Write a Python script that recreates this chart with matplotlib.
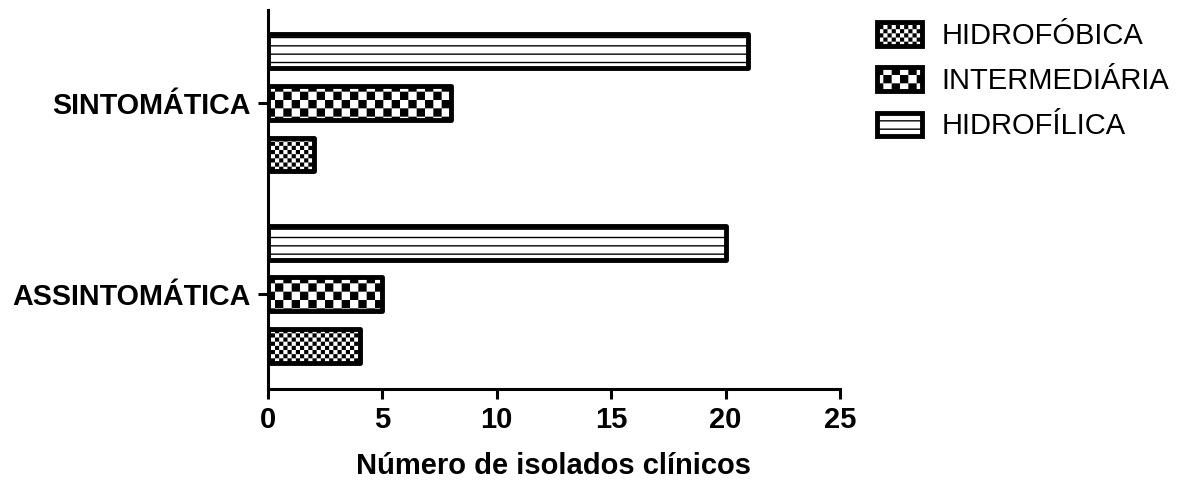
import numpy as np
import matplotlib
matplotlib.use('Agg')
import matplotlib.hatch as mhatch
from matplotlib.path import Path
from matplotlib import pyplot as plt

# ---dados---
grupos = ['ASSINTOMÁTICA', 'SINTOMÁTICA']
series = ['HIDROFÓBICA', 'INTERMEDIÁRIA', 'HIDROFÍLICA']
hidrofobica = [4, 2]
intermediaria = [5, 8]
hidrofilica = [20, 21]
xticks = [0, 5, 10, 15, 20, 25]
xlabel = 'Número de isolados clínicos'


# ---padrão xadrez como hachura (substitui '.' e 'o')---
class _Checker(mhatch.HatchPatternBase):
    char = '.'

    def __init__(self, hatch, density):
        self.n = int(hatch.count(self.char) * density)
        self.num_vertices = (self.n * self.n // 2) * 5

    def set_vertices_and_codes(self, vertices, codes):
        n = self.n
        s = 1.0 / n
        e = 0.007  # desconta a espessura do traço da hachura
        sq = np.array([[e, e], [s - e, e], [s - e, s - e], [e, s - e], [e, e]])
        parts = [sq + [i * s, j * s] for i in range(n) for j in range(n) if (i + j) % 2 == 0]
        vertices[:] = np.concatenate(parts)
        codes[:] = np.tile([Path.MOVETO, Path.LINETO, Path.LINETO, Path.LINETO, Path.CLOSEPOLY], len(parts))


class FineChecker(_Checker):
    char = '.'


class CoarseChecker(_Checker):
    char = 'o'


mhatch._hatch_types[mhatch._hatch_types.index(mhatch.SmallFilledCircles)] = FineChecker
mhatch._hatch_types[mhatch._hatch_types.index(mhatch.SmallCircles)] = CoarseChecker

plt.rcParams['font.family'] = ['Liberation Sans', 'DejaVu Sans']
plt.rcParams['hatch.linewidth'] = 1.0

fig = plt.figure(figsize=(11.96, 4.82), dpi=100)
ax = fig.add_axes([268 / 1196, 1 - 389 / 482, (840 - 268) / 1196, 379 / 482])

y = np.arange(len(grupos))
passo = 0.27
altura = 0.177
estilo = dict(height=altura, color='white', edgecolor='black', linewidth=3.5, joinstyle='round')
ax.barh(y - passo, hidrofobica, hatch='....', label=series[0], **estilo)
ax.barh(y, intermediaria, hatch='oo', label=series[1], **estilo)
ax.barh(y + passo, hidrofilica, hatch='--', label=series[2], **estilo)

ax.set_xlim(0, 25)
ax.set_ylim(-0.495, 1.485)
ax.set_xticks(xticks)
ax.set_yticks(y)
ax.set_yticklabels(grupos, fontsize=20.7, fontweight='bold')
ax.set_xticklabels([str(t) for t in xticks], fontsize=21, fontweight='bold')
ax.set_xlabel(xlabel, fontsize=21, fontweight='bold', labelpad=13)

for s in ['top', 'right']:
    ax.spines[s].set_visible(False)
for s in ['left', 'bottom']:
    ax.spines[s].set_linewidth(2.2)
ax.tick_params(axis='both', width=2.2, length=7.5, direction='out', color='black')
ax.tick_params(axis='y', pad=5)
ax.tick_params(axis='x', pad=5)

fig.legend(loc='upper left', bbox_to_anchor=(877 / 1196, 1 - 22 / 482), frameon=False,
           fontsize=21, handlelength=1.55, handleheight=0.85, handletextpad=0.65,
           labelspacing=0.59, borderaxespad=0, borderpad=0)

fig.savefig('out.png', dpi=100)
